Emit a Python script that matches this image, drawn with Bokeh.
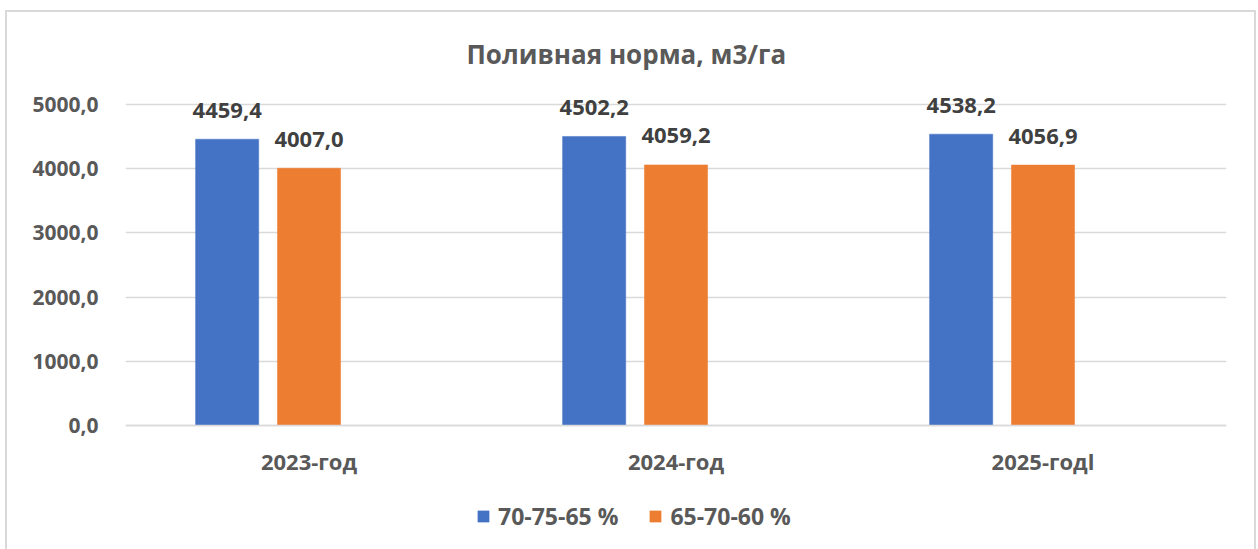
from bokeh.plotting import figure
from bokeh.models import (ColumnDataSource, FixedTicker, LabelSet, Legend, LegendItem, Range1d)
from bokeh.transform import dodge
from bokeh.core.properties import value
from bokeh.embed import file_html
from bokeh.resources import INLINE

# ---- data ----
years = ["2023-год", "2024-год", "2025-годl"]
series_names = ["70-75-65 %", "65-70-60 %"]
s1 = [4459.4, 4502.2, 4538.2]
s2 = [4007.0, 4059.2, 4056.9]
y_ticks = [0, 1000, 2000, 3000, 4000, 5000]
title_text = "Поливная норма, м3/га"

colors = ["#4472C4", "#ED7D31"]
FONT = "Open Sans"
AXIS_COL = "#595959"
LABEL_COL = "#404040"


def fmt(v):
    return f"{v:.1f}".replace(".", ",")


src = ColumnDataSource(dict(
    year=years, s1=s1, s2=s2,
    t1=[fmt(v) for v in s1], t2=[fmt(v) for v in s2],
))

# frame spans down to the bottom of the page; the category axis sits at y=0 inside it
p = figure(x_range=years, y_range=Range1d(-1932, 5296), width=1258, height=549,
           output_backend="svg", toolbar_location=None,
           min_border_left=125, min_border_right=32, min_border_top=85, min_border_bottom=0)
grad = "linear-gradient(#d9d9d9,#d9d9d9)"
p.styles = {
    "background-color": "white",
    "background-image": ", ".join([grad] * 3),
    "background-size": "1251px 2px, 2px 539px, 2px 539px",
    "background-position": "5px 10px, 5px 10px, 1254px 10px",
    "background-repeat": "no-repeat",
}
p.outline_line_color = None
p.background_fill_color = None
p.border_fill_color = None

bw = 0.172
offs = [-0.223, 0.0]
renderers = []
for i, (col, c) in enumerate(zip(["s1", "s2"], colors)):
    r = p.vbar(x=dodge("year", offs[i], range=p.x_range), top=col, bottom=0, width=bw, source=src,
               fill_color=c, line_color=c, line_width=0.5)
    renderers.append(r)
    ls = LabelSet(x=dodge("year", offs[i], range=p.x_range), y=col, text="t%d" % (i + 1), source=src,
                  text_align="center", text_baseline="middle", y_offset=29,
                  text_font=value(FONT), text_font_style="bold", text_font_size="22px",
                  text_color=LABEL_COL)
    p.add_layout(ls)

# axes
p.yaxis.ticker = FixedTicker(ticks=y_ticks)
p.yaxis.major_label_overrides = {t: fmt(t) for t in y_ticks}
p.yaxis.axis_line_color = None
p.yaxis.major_tick_line_color = None
p.yaxis.minor_tick_line_color = None
p.yaxis.major_tick_out = 0
p.yaxis.major_label_standoff = 27
p.yaxis.major_label_text_font_size = "21px"
p.xaxis.major_label_text_font_size = "22px"
for ax in (p.xaxis, p.yaxis):
    ax.major_label_text_font = FONT
    ax.major_label_text_font_style = "bold"
    ax.major_label_text_color = AXIS_COL

p.xaxis.fixed_location = 0
p.xaxis.axis_line_color = "#d9d9d9"
p.xaxis.axis_line_width = 1.5
p.xaxis.major_tick_line_color = None
p.xaxis.major_tick_out = 0
p.xaxis.major_label_standoff = 21
p.xgrid.grid_line_color = None
p.ygrid.grid_line_color = "#d9d9d9"
p.ygrid.grid_line_width = 1.5
p.x_range.range_padding = 0.0

# title
p.title.text = title_text
p.title.align = "left"
p.title.offset = 341
p.title.standoff = 28
p.title.text_font = FONT
p.title.text_font_style = "bold"
p.title.text_font_size = "26px"
p.title.text_color = AXIS_COL

legend = Legend(items=[LegendItem(label=n, renderers=[r]) for n, r in zip(series_names, renderers)],
                orientation="horizontal", location=(351, 17),
                glyph_width=14, glyph_height=14, label_standoff=8, spacing=30,
                padding=0, margin=0, border_line_color=None, background_fill_alpha=0,
                label_text_font=FONT, label_text_font_style="bold", label_text_font_size="23px",
                label_text_color=AXIS_COL)
p.add_layout(legend)

open("out.html", "w").write(file_html(p, INLINE))
